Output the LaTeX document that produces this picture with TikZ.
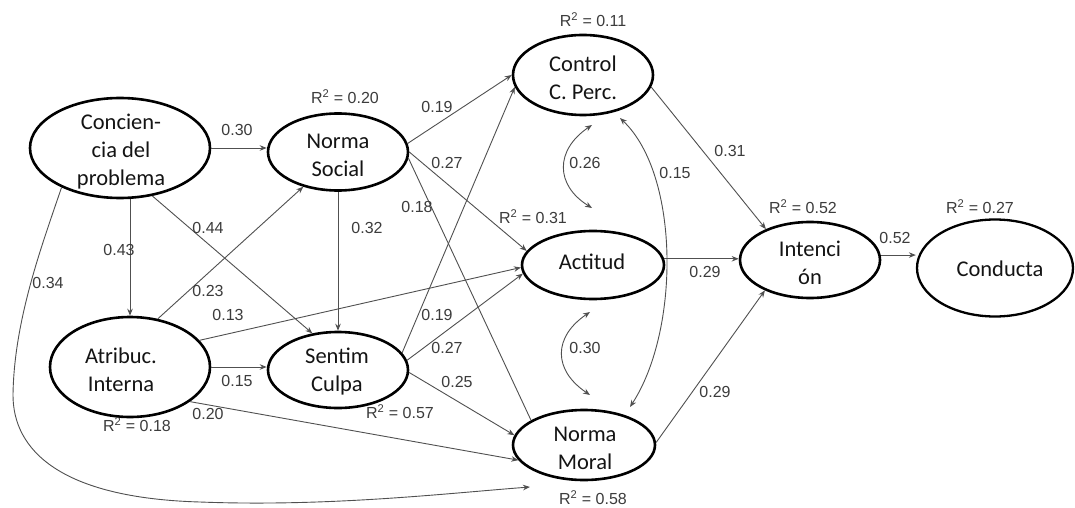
\documentclass[tikz,border=0pt]{standalone}
\usepackage{fontspec}
\setmainfont{Liberation Sans}
\newfontfamily\nodefont{Carlito}
\usetikzlibrary{arrows.meta,shapes.geometric}
\definecolor{edgec}{HTML}{505050}
\definecolor{labc}{HTML}{3C3C3C}
\begin{document}
\begin{tikzpicture}[x=1pt,y=-1pt,
  var/.style={ellipse, draw=black, line width=2.6pt, inner sep=0pt},
  vt/.style={font=\nodefont\fontsize{22.5}{28}\selectfont, align=center, text=black!92, inner sep=0pt},
  path/.style={draw=edgec, line width=0.9pt, -{Stealth[length=7pt,width=5.5pt]}},
  plain/.style={draw=edgec, line width=0.9pt},
  cov/.style={draw=edgec, line width=0.9pt, {Stealth[length=7pt,width=5.5pt]}-{Stealth[length=7pt,width=5.5pt]}},
  lab/.style={font=\fontsize{16}{18}\selectfont, text=labc, inner sep=0pt}
]
\useasboundingbox (0,0) rectangle (1075,508);
\fill[white] (0,0) rectangle (1075,508);

% latent variables
\node[var, minimum width=180pt, minimum height=100pt] (cp) at (120,148) {};
\node[var, minimum width=140pt, minimum height=77pt] (ns) at (338,152) {};
\node[var, minimum width=160pt, minimum height=100pt] (at) at (130,367) {};
\node[var, minimum width=140pt, minimum height=76pt] (sc) at (338,370) {};
\node[var, minimum width=140pt, minimum height=80pt] (cc) at (583,75) {};
\node[var, minimum width=142pt, minimum height=68pt] (act) at (593,265) {};
\node[var, minimum width=142pt, minimum height=70pt] (nm) at (584,445) {};
\node[var, minimum width=140pt, minimum height=76pt] (int) at (810,260) {};
\node[var, minimum width=156pt, minimum height=97pt, line width=2.3pt] (cd) at (995,268) {};

\node[vt] (cpt) at (121,152) {Concien-\\cia del\\problema};
\node[vt] (nst) at (338,155) {Norma\\Social};
\node[vt] (att) at (121,370) {Atribuc.\\Interna};
\node[vt] (sct) at (337,372) {Sentim\\Culpa};
\node[vt] (cct) at (583,78) {Control\\C. Perc.};
\node[vt] (actt) at (592,262) {Actitud};
\node[vt] (nmt) at (585,448) {Norma\\Moral};
\node[vt] (intt) at (810,263) {Intenci\\ón};
\node[vt] (cdt) at (1000,269) {Conducta};

% free end
\coordinate (nmend) at (530,487);

% paths
\draw[path] (cp.east) -- (cp.east -| ns.west);
\draw[path] (cp.south -| at.north) -- (at.north);
\draw[path] (cp.-56) -- (sc.125);
\draw[path] (cp.214) .. controls (42,245) and (14,320) .. (13,395)
  .. controls (13,450) and (60,498) .. (200,502)
  .. controls (330,507) and (450,493) .. (nmend);

\draw[path] (at.60) -- (ns.225);
\draw[path] (at.21) -- (act.182);
\draw[path] (at.east) -- (at.east -| sc.west);
\draw[path] (at.-30) -- (nm.193);

\draw[path] (ns.south) -- (sc.north);
\draw[path] (ns.7) -- (cc.180);
\draw[path] (ns.0) -- (act.168);
\draw[plain] (ns.-5) -- (nm.155);

\draw[path] (sc.15) -- (cc.190);
\draw[path] (sc.8) -- (act.187);
\draw[path] (sc.-2) -- (nm.172);

\draw[path] (cc.-10) -- (int.145);
\draw[path] (act.5) -- (act.5 -| int.west);
\draw[path] (nm.2) -- (int.214);
\draw[path] (int.4) -- (int.4 -| cd.west);

% covariances
\coordinate (k1) at (592,125);
\coordinate (k2) at (592,208);
\coordinate (k3) at (590,312);
\coordinate (k4) at (590,395);
\coordinate (k5) at (620,118);
\coordinate (k6) at (630,407);
\draw[cov] (k1) .. controls (555,150) and (555,185) .. (k2);
\draw[cov] (k3) .. controls (553,337) and (553,370) .. (k4);
\draw[cov] (k5) .. controls (680,175) and (680,330) .. (k6);

% coefficient labels
\node[lab] (l1) at (237,130) {0.30};
\node[lab] (l2) at (119,250) {0.43};
\node[lab] (l3) at (208,228) {0.44};
\node[lab] (l4) at (48,283) {0.34};
\node[lab] (l5) at (208,291) {0.23};
\node[lab] (l6) at (228,315) {0.13};
\node[lab] (l7) at (237,381) {0.15};
\node[lab] (l8) at (208,414) {0.20};
\node[lab] (l9) at (367,228) {0.32};
\node[lab] (l10) at (437,107) {0.19};
\node[lab] (l11) at (447,163) {0.27};
\node[lab] (l12) at (417,207) {0.18};
\node[lab] (l13) at (437,315) {0.19};
\node[lab] (l14) at (447,348) {0.27};
\node[lab] (l15) at (457,382) {0.25};
\node[lab] (l16) at (585,163) {0.26};
\node[lab] (l17) at (675,173) {0.15};
\node[lab] (l18) at (585,348) {0.30};
\node[lab] (l19) at (730,151) {0.31};
\node[lab] (l20) at (705,272) {0.29};
\node[lab] (l21) at (715,392) {0.29};
\node[lab] (l22) at (895,238) {0.52};

% R2 labels
\node[lab] (r1) at (345,97) {R\textsuperscript{2} = 0.20};
\node[lab] (r2) at (593,20) {R\textsuperscript{2} = 0.11};
\node[lab] (r3) at (533,217) {R\textsuperscript{2} = 0.31};
\node[lab] (r4) at (803,207) {R\textsuperscript{2} = 0.52};
\node[lab] (r5) at (980,207) {R\textsuperscript{2} = 0.27};
\node[lab] (r6) at (137,425) {R\textsuperscript{2} = 0.18};
\node[lab] (r7) at (400,412) {R\textsuperscript{2} = 0.57};
\node[lab] (r8) at (593,498) {R\textsuperscript{2} = 0.58};
\end{tikzpicture}
\end{document}
